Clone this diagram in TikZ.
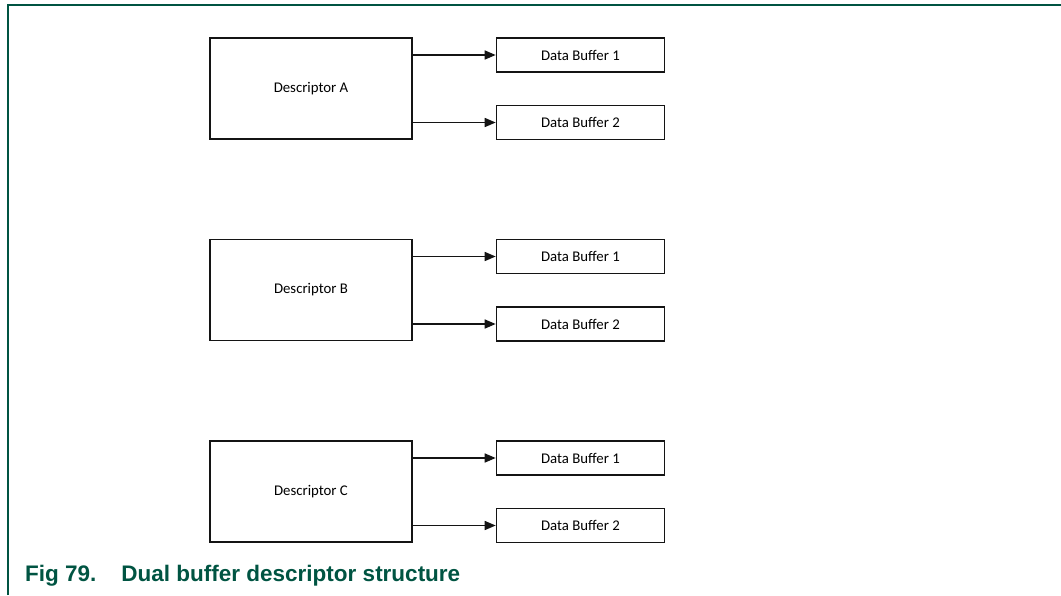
\documentclass[tikz,border=0pt]{standalone}
\usepackage{fontspec}
\setmainfont{Carlito}
\newfontfamily\capfont{Liberation Sans}
\usetikzlibrary{arrows.meta,positioning}
\definecolor{DbGreen}{RGB}{0,84,66}
\definecolor{DbInk}{RGB}{20,20,20}
\tikzset{
  db/desc/.style={
    draw=DbInk,
    line width=1.6pt,
    fill=white,
    align=center,
    inner sep=0pt,
    minimum width=202pt,
    minimum height=101pt,
    font=\fontsize{14.8}{17}\selectfont
  },
  db/buffer/.style={
    draw=DbInk,
    line width=1.6pt,
    fill=white,
    align=center,
    inner sep=0pt,
    minimum width=168pt,
    minimum height=34pt,
    font=\fontsize{14.8}{17}\selectfont
  },
  db/arrow/.style={-{Triangle[length=11pt,width=9pt]}, line width=1.5pt, draw=DbInk},
  db/frame/.style={line width=1.8pt, draw=DbGreen},
  db/caption/.style={font=\capfont\bfseries\fontsize{22.5}{26}\selectfont, text=DbGreen, anchor=base west, inner sep=0pt}
}

\begin{document}
\begin{tikzpicture}[x=1pt,y=-1pt]
  \useasboundingbox (0,0) rectangle (1061,595);
  % page frame
  \coordinate (frameTL) at (8,5);
  \coordinate (frameTR) at (1061,5);
  \coordinate (frameBL) at (8,595);
  \draw[db/frame] (frameBL) -- (frameTL) -- (frameTR);
  % descriptors with their two buffers
  \foreach \ltr/\y in {A/88.5,B/290,C/491.5}
  {
    \node[db/desc] (desc\ltr) at (311,\y) {Descriptor \ltr};
    \node[db/buffer] (buf\ltr1) at (580.5,\y-33.5) {Data Buffer 1};
    \node[db/buffer] (buf\ltr2) at (580.5,\y+34) {Data Buffer 2};
    \draw[db/arrow] (buf\ltr1.west -| desc\ltr.east) -- (buf\ltr1.west);
    \draw[db/arrow] (buf\ltr2.west -| desc\ltr.east) -- (buf\ltr2.west);
  }
  \node[db/caption] (caption) at (25,581) {Fig 79.\hspace{25pt}Dual buffer descriptor structure};
\end{tikzpicture}
\end{document}
